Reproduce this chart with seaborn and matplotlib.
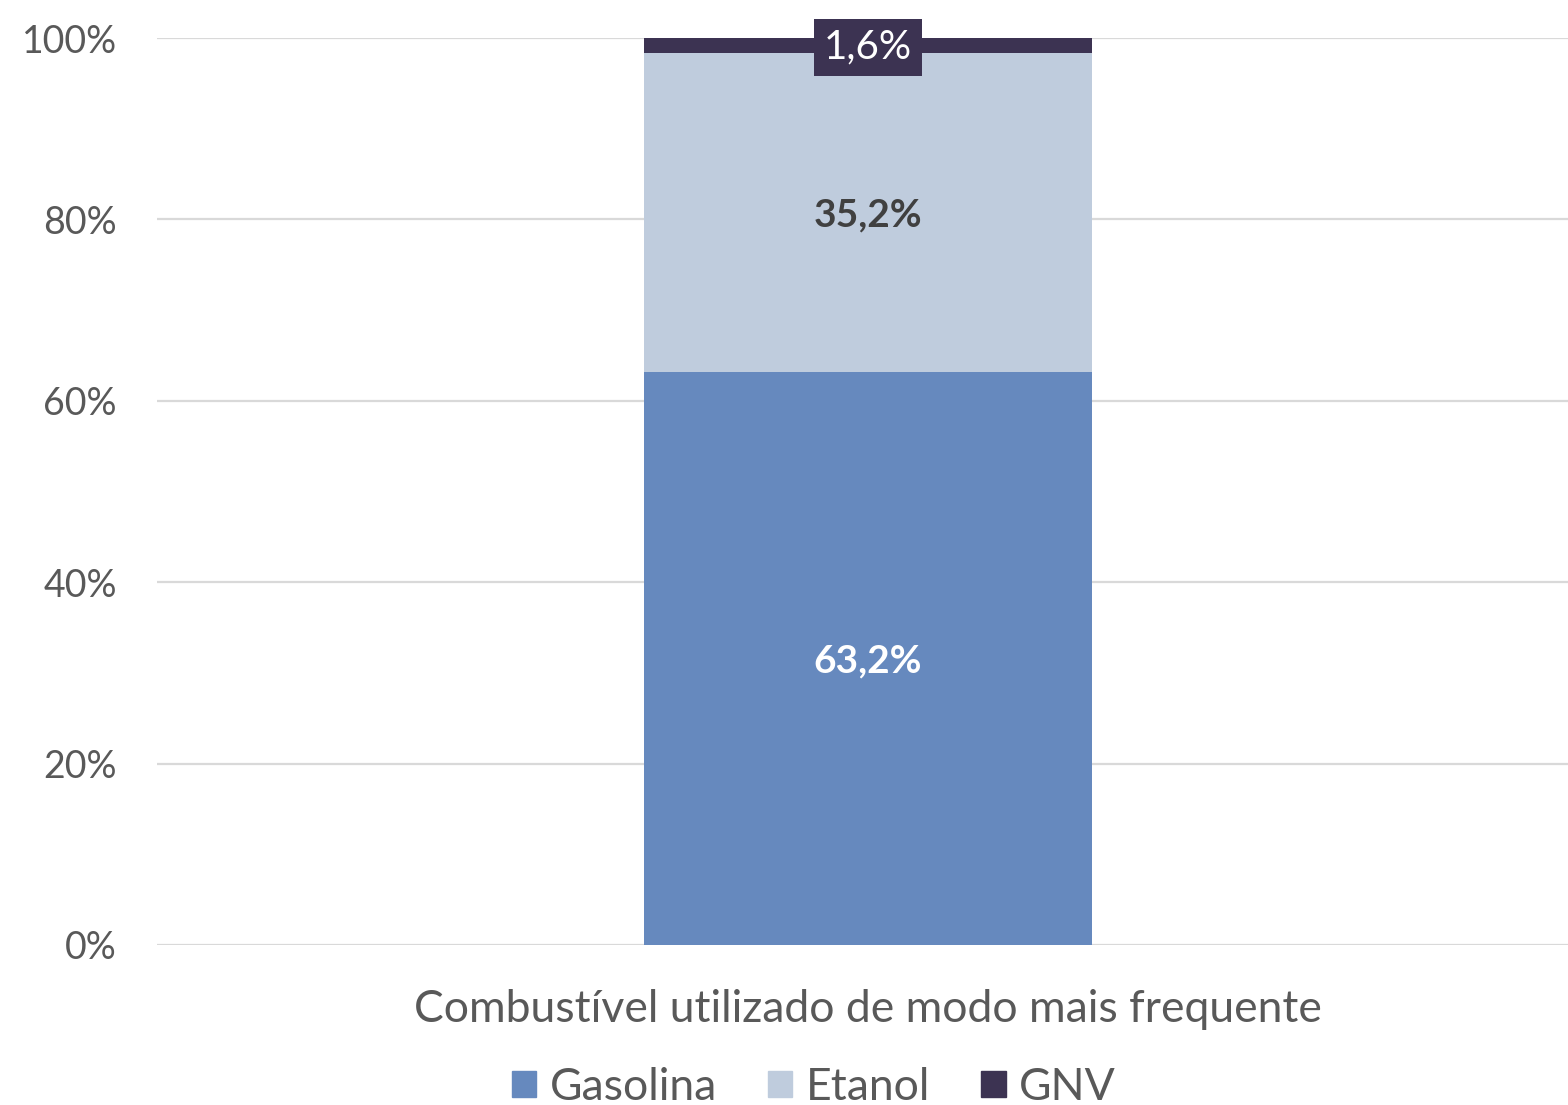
import matplotlib
matplotlib.use("Agg")
import matplotlib.pyplot as plt
import matplotlib.patches as mpatches
import seaborn as sns
import pandas as pd

categoria = ["Combustível utilizado de modo mais frequente"]
series = ["Gasolina", "Etanol", "GNV"]
gasolina = [63.2]
etanol = [35.2]
gnv = [1.6]
cores = ["#6689BE", "#BFCCDD", "#3C3352"]
rotulos_y = ["0%", "20%", "40%", "60%", "80%", "100%"]

sns.set_style("white")
plt.rcParams["font.family"] = ["Lato", "DejaVu Sans"]
cinza = "#595959"

df = pd.DataFrame({"cat": categoria * 3,
                   "serie": series,
                   "valor": [gasolina[0], etanol[0], gnv[0]]})
df["base"] = df["valor"].cumsum() - df["valor"]

fig = plt.figure(figsize=(15.68, 11.05), dpi=100)
ax = fig.add_axes([0.1001, 0.1448, 0.8999, 0.8208])

for i, row in df.iterrows():
    sub = df.iloc[[i]]
    sns.barplot(data=sub, x="cat", y="valor", color=cores[i], bottom=row["base"],
                width=0.317, ax=ax, saturation=1, zorder=3, linewidth=0)

ax.set_xlim(-0.504, 0.496)
ax.set_ylim(0, 100)
ax.set_yticks([0, 20, 40, 60, 80, 100])
ax.set_yticklabels(rotulos_y, fontsize=27, color=cinza)
ax.tick_params(axis="y", length=0, pad=29)
ax.tick_params(axis="x", length=0, pad=32, labelsize=32, labelcolor=cinza)
ax.set_xlabel("")
ax.set_ylabel("")
for s in ax.spines.values():
    s.set_visible(False)
ax.yaxis.grid(True, color="#D9D9D9", linewidth=1.6, zorder=0)
ax.set_axisbelow(True)

# rotulos de dados
for i, row in df.iterrows():
    y = row["base"] + row["valor"] / 2
    txt = f"{row['valor']:.1f}%".replace(".", ",")
    if row["serie"] == "Gasolina":
        ax.text(0, y - 0.3, txt, ha="center", va="center", fontsize=28, fontweight="bold",
                color="white", zorder=5)
    elif row["serie"] == "Etanol":
        ax.text(0, y - 0.3, txt, ha="center", va="center", fontsize=28, fontweight="bold",
                color="#404040", zorder=5)
    else:
        ax.text(0, y - 0.2, txt, ha="center", va="center", fontsize=29, color="white", zorder=5,
                bbox=dict(boxstyle="square,pad=0.25", fc=cores[2], ec="none"))

handles = [mpatches.Patch(color=c, label=s) for c, s in zip(cores, series)]
fig.legend(handles=handles, loc="center", bbox_to_anchor=(0.519, 0.016), ncol=3,
           frameon=False, fontsize=32, labelcolor=cinza, handlelength=0.55,
           handleheight=0.55, handletextpad=0.3, columnspacing=1.15)

fig.savefig("out.png", dpi=100)
